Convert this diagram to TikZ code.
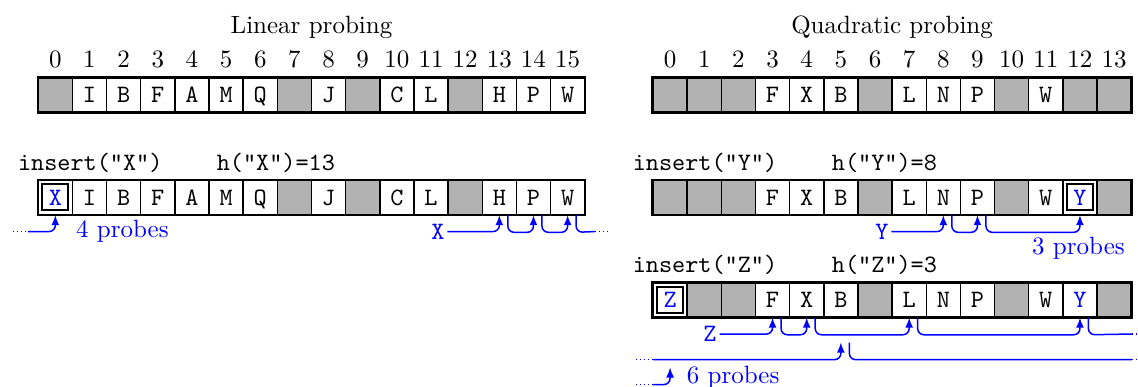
\documentclass[tikz,border=0pt]{standalone}
\usepackage{tikz}
\usetikzlibrary{arrows.meta,positioning,calc}

\begin{document}
\begin{tikzpicture}[x=0.48cm, y=0.48cm,
  cell/.style={draw, semithick, fill=white, minimum size=0.48cm, inner sep=0pt,
    font=\ttfamily, text height=6.1pt, text depth=0pt},
  free/.style={fill=black!30},
  newkey/.style={text=blue},
  keybox/.style={draw, thick, minimum size=0.48cm-3.2pt, inner sep=0pt},
  frame/.style={thick},
  idx/.style={anchor=base},
  op/.style={anchor=base west, font=\ttfamily},
  key/.style={text=blue, font=\ttfamily, inner sep=1pt},
  probe/.style={blue, semithick, rounded corners=2.5pt, -{Latex[length=4pt,width=3.2pt]}},
  lane/.style={blue, semithick, rounded corners=2.5pt},
  wrap/.style={blue, semithick, densely dotted},
  lab/.style={text=blue}]
  \useasboundingbox (-1.12,-0.05) rectangle (32.20,11.28);

  % (a) linear probing
  \node[idx] at (8,10.29) {Linear probing};
  \foreach \i in {0,...,15}
    \node[idx] at (\i+0.5,9.29) {\i};
  \foreach \r/\y in {1/8.5, 2/5.5} {
    \foreach \i/\k in {1/I,2/B,3/F,4/A,5/M,6/Q,8/J,10/C,11/L,13/H,14/P,15/W}
      \node[cell] (lp\r-\i) at (\i+0.5,\y) {\k};
    \foreach \i in {7,9,12}
      \node[cell, free] (lp\r-\i) at (\i+0.5,\y) {};
  }
  \node[cell, free] (lp1-0) at (0.5,8.5) {};
  \node[cell, newkey] (lp2-0) at (0.5,5.5) {X};
  \node[keybox] at (lp2-0) {};
  \foreach \r in {1,2}
    \draw[frame] (lp\r-0.north west) rectangle (lp\r-15.south east);
  \node[op] at (-0.85,6.28) {insert("X")};
  \node[op] at (4.97,6.28) {h("X")=13};

  % probe sequence 13, 14, 15, 0
  \node[key] (kx) at (11.7,4.5) {X};
  \draw[probe] (kx) -| (lp2-13.south);
  \foreach \a/\b in {13/14, 14/15}
    \draw[probe] ([xshift=3.4pt]lp2-\a.south) -- ++(0,-0.5) -| (lp2-\b.south);
  \coordinate (lxout) at (16.3,4.5);
  \coordinate (lxend) at (16.72,4.5);
  \coordinate (lxbeg) at (-0.74,4.5);
  \coordinate (lxin) at (-0.3,4.5);
  \draw[lane] ([xshift=3.4pt]lp2-15.south) -- ++(0,-0.5) -- (lxout);
  \draw[wrap] (lxout) -- (lxend);
  \draw[wrap] (lxbeg) -- (lxin);
  \draw[probe] (lxin) -| (lp2-0.south);
  \node[lab, anchor=west] at (0.85,4.52) {4 probes};

  % (b) quadratic probing
  \begin{scope}[shift={(18,0)}]
    \node[idx] at (7,10.29) {Quadratic probing};
    \foreach \i in {0,...,13}
      \node[idx] at (\i+0.5,9.29) {\i};
    \foreach \r/\y in {1/8.5, 2/5.5, 3/2.5} {
      \foreach \i/\k in {3/F,4/X,5/B,7/L,8/N,9/P,11/W}
        \node[cell] (qp\r-\i) at (\i+0.5,\y) {\k};
      \foreach \i in {1,2,6,10,13}
        \node[cell, free] (qp\r-\i) at (\i+0.5,\y) {};
    }
    \node[cell, free] (qp1-0) at (0.5,8.5) {};
    \node[cell, free] (qp2-0) at (0.5,5.5) {};
    \node[cell, newkey] (qp3-0) at (0.5,2.5) {Z};
    \node[keybox] at (qp3-0) {};
    \node[cell, free] (qp1-12) at (12.5,8.5) {};
    \node[cell, newkey] (qp2-12) at (12.5,5.5) {Y};
    \node[keybox] at (qp2-12) {};
    \node[cell, newkey] (qp3-12) at (12.5,2.5) {Y};
    \foreach \r in {1,2,3}
      \draw[frame] (qp\r-0.north west) rectangle (qp\r-13.south east);
    \node[op] at (-0.85,6.28) {insert("Y")};
    \node[op] at (4.98,6.28) {h("Y")=8};
    \node[op] at (-0.85,3.30) {insert("Z")};
    \node[op] at (4.98,3.30) {h("Z")=3};

    % Y: 8, 9, 12
    \node[key] (ky) at (6.7,4.5) {Y};
    \draw[probe] (ky) -| (qp2-8.south);
    \foreach \a/\b in {8/9, 9/12}
      \draw[probe] ([xshift=3.4pt]qp2-\a.south) -- ++(0,-0.5) -| (qp2-\b.south);
    \node[lab, anchor=base east] at (14.07,3.82) {3 probes};

    % Z: 3, 4, 7, 12, 5, 0
    \node[key] (kz) at (1.67,1.5) {Z};
    \draw[probe] (kz) -| (qp3-3.south);
    \foreach \a/\b in {3/4, 4/7, 7/12}
      \draw[probe] ([xshift=3.4pt]qp3-\a.south) -- ++(0,-0.5) -| (qp3-\b.south);
    \coordinate (qzout1) at (14.02,1.5);
    \coordinate (qzend1) at (14.17,1.5);
    \coordinate (qzbeg2) at (-0.5,0.75);
    \coordinate (qzin2) at (0,0.75);
    \coordinate (qzb) at (5.5,1.25);
    \coordinate (qzout2) at (14.02,0.75);
    \coordinate (qzend2) at (14.17,0.75);
    \coordinate (qzbeg3) at (-0.5,0.02);
    \coordinate (qzin3) at (0,0.02);
    \coordinate (qzz) at (0.5,0.52);
    \draw[lane] ([xshift=3.4pt]qp3-12.south) -- ++(0,-0.5) -- (qzout1);
    \draw[wrap] (qzout1) -- (qzend1);
    \draw[wrap] (qzbeg2) -- (qzin2);
    \draw[probe] (qzin2) -| (qzb);
    \draw[lane] ([xshift=3.4pt]qzb) -- ++(0,-0.5) -- (qzout2);
    \draw[wrap] (qzout2) -- (qzend2);
    \draw[wrap] (qzbeg3) -- (qzin3);
    \draw[probe] (qzin3) -| (qzz);
    \node[lab, anchor=west] at (0.73,0.23) {6 probes};
  \end{scope}
\end{tikzpicture}
\end{document}
